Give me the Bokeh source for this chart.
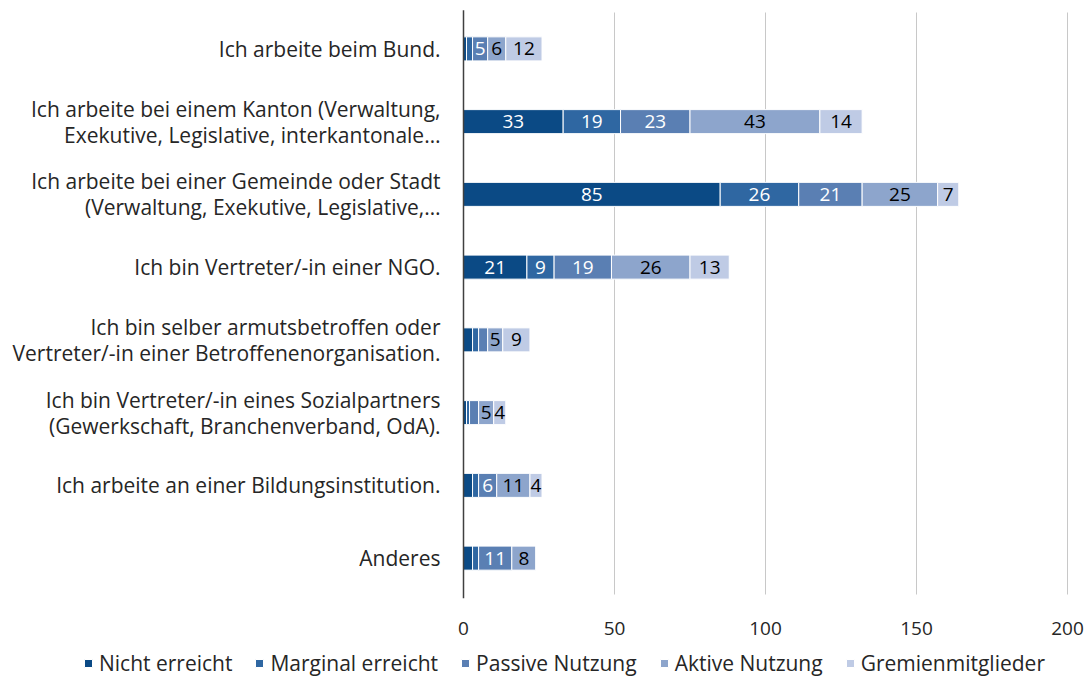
from bokeh.plotting import figure
from bokeh.models import ColumnDataSource, Range1d, Legend, LegendItem
from bokeh.core.properties import value
from bokeh.embed import file_html
from bokeh.resources import INLINE

categories = [
    "Ich arbeite beim Bund.",
    "Ich arbeite bei einem Kanton (Verwaltung,\nExekutive, Legislative, interkantonale…",
    "Ich arbeite bei einer Gemeinde oder Stadt\n(Verwaltung, Exekutive, Legislative,…",
    "Ich bin Vertreter/-in einer NGO.",
    "Ich bin selber armutsbetroffen oder\nVertreter/-in einer Betroffenenorganisation.",
    "Ich bin Vertreter/-in eines Sozialpartners\n(Gewerkschaft, Branchenverband, OdA).",
    "Ich arbeite an einer Bildungsinstitution.",
    "Anderes",
]
series_names = ["Nicht erreicht", "Marginal erreicht", "Passive Nutzung", "Aktive Nutzung", "Gremienmitglieder"]
nicht = [1, 33, 85, 21, 3, 1, 3, 3]
marginal = [2, 19, 26, 9, 2, 1, 2, 2]
passive = [5, 23, 21, 19, 3, 3, 6, 11]
aktive = [6, 43, 25, 26, 5, 5, 11, 8]
gremien = [12, 14, 7, 13, 9, 4, 4, 0]
x_ticks = [0, 50, 100, 150, 200]

colors = ["#0b4a85", "#2f67a2", "#5a7fb3", "#8da5cc", "#bfcbe5"]
text_colors = ["white", "white", "white", "black", "black"]
FONT = "Open Sans"

# layout in pixels (plot area of the chart inside the 1085x677 canvas)
W, H = 1085, 677
X0_PX, X200_PX = 463, 1067
TOP_PX, BOTTOM_PX = 12, 594
xmax = x_ticks[-1]
ppu_x = (X200_PX - X0_PX) / xmax
n = len(categories)
ppu_y = (BOTTOM_PX - TOP_PX) / n

p = figure(
    x_range=Range1d(-X0_PX / ppu_x, (W - X0_PX) / ppu_x),
    y_range=Range1d((H - TOP_PX) / ppu_y, -TOP_PX / ppu_y),
    width=W, height=H,
    output_backend="svg", toolbar_location=None,
    min_border_left=0, min_border_right=0, min_border_top=0, min_border_bottom=0,
)
p.outline_line_color = None
p.axis.visible = False
p.grid.visible = False

keys = ["s0", "s1", "s2", "s3", "s4"]
values = [nicht, marginal, passive, aktive, gremien]
data = {"pos": [i + 0.5 for i in range(n)], "cat": categories}
for k, v in zip(keys, values):
    data[k] = v
source = ColumnDataSource(data)

# gridlines and value axis line
grid_src = ColumnDataSource(dict(x=x_ticks[1:], y0=[0] * (len(x_ticks) - 1), y1=[n] * (len(x_ticks) - 1)))
p.segment(x0="x", y0="y0", x1="x", y1="y1", source=grid_src, line_color="#c8c8c8", line_width=1)

renderers = p.hbar_stack(keys, y="pos", height=0.33, color=colors, line_color="white",
                         line_width=1, source=source)

p.segment(x0=[0], y0=[-0.03], x1=[0], y1=[n + 0.05], line_color="#404040", line_width=1.5)

# data labels
for i, (k, v) in enumerate(zip(keys, values)):
    lefts = [sum(values[j][r] for j in range(i)) for r in range(n)]
    xs, ys, ts = [], [], []
    for r, val in enumerate(v):
        if val >= 4:
            xs.append(lefts[r] + val / 2)
            ys.append(r + 0.5)
            ts.append(str(val))
    ls = ColumnDataSource(dict(x=xs, y=ys, t=ts))
    p.text(x="x", y="y", text="t", source=ls, text_align="center", text_baseline="middle",
           text_font=value(FONT), text_font_size="19px", text_color=text_colors[i])

# category labels
p.text(x=-23 / ppu_x, y="pos", text="cat", source=source, text_align="right",
       text_baseline="middle", text_font=value(FONT), text_font_size="21px",
       text_color="#262626", text_line_height=0.93)

# x tick labels
tick_src = ColumnDataSource(dict(x=x_ticks, y=[n + 34 / ppu_y] * len(x_ticks), t=[str(t) for t in x_ticks]))
p.text(x="x", y="y", text="t", source=tick_src, text_align="center", text_baseline="middle",
       text_font=value(FONT), text_font_size="19px", text_color="#262626")

legend = Legend(
    items=[LegendItem(label=nm, renderers=[r]) for nm, r in zip(series_names, renderers)],
    orientation="horizontal",
    location=(83, 0),
    label_text_font=FONT, label_text_font_size="21px", label_text_color="#262626",
    glyph_width=10, glyph_height=10, label_standoff=6, spacing=22,
    border_line_color=None, background_fill_alpha=0, padding=0, margin=0,
)
p.add_layout(legend, "center")

open("out.html", "w").write(file_html(p, INLINE))
